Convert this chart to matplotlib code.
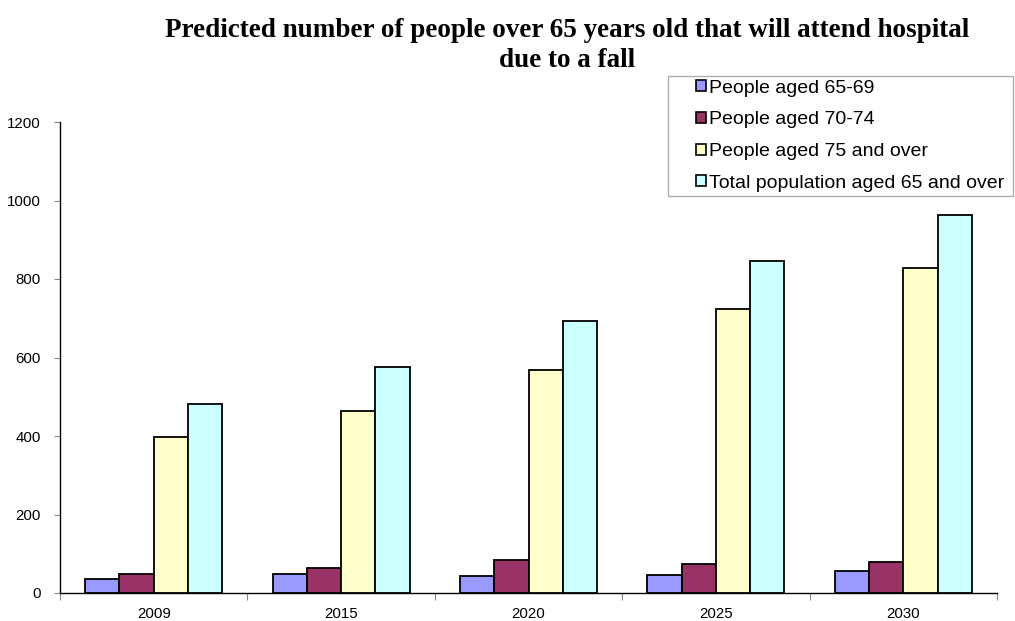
import matplotlib
matplotlib.use("Agg")
import matplotlib.pyplot as plt
from matplotlib.patches import Rectangle
import numpy as np

years = ["2009", "2015", "2020", "2025", "2030"]
series_names = [
    "People aged 65-69",
    "People aged 70-74",
    "People aged 75 and over",
    "Total population aged 65 and over",
]
aged_65_69 = [35, 49, 43, 47, 57]
aged_70_74 = [49, 63, 83, 75, 79]
aged_75_over = [397, 464, 567, 724, 828]
total_65_over = [481, 576, 693, 846, 964]
colors = ["#9999FF", "#993366", "#FFFFCC", "#CCFFFF"]
y_ticks = [0, 200, 400, 600, 800, 1000, 1200]

plt.rcParams["font.family"] = ["Liberation Sans", "DejaVu Sans"]

W, H = 1015, 621
fig = plt.figure(figsize=(W / 100, H / 100), dpi=100)
ax = fig.add_axes([60 / W, 1 - 593 / H, (997 - 60) / W, (593 - 122) / H])

x = np.arange(len(years))
width = 0.183
values = [aged_65_69, aged_70_74, aged_75_over, total_65_over]
for i, (vals, name, col) in enumerate(zip(values, series_names, colors)):
    offs = (i - 1.5) * width
    ax.bar(x + offs, vals, width, color=col, edgecolor="black",
           linewidth=1.3, label=name, zorder=3)

ax.set_xlim(-0.5, len(years) - 0.5)
ax.set_ylim(0, 1200)
ax.set_yticks(y_ticks)
ax.set_yticklabels([str(v) for v in y_ticks], fontsize=10.8)
ax.set_xticks(x)
ax.set_xticklabels(years, fontsize=10.8)
ax.set_xticks(np.arange(len(years) + 1) - 0.5, minor=True)
ax.tick_params(axis="x", which="major", length=0, pad=10)
ax.tick_params(axis="x", which="minor", length=5, width=0.8, color="#888888")
ax.tick_params(axis="y", length=4, width=0.8, color="#888888", pad=10)

for side in ["top", "right"]:
    ax.spines[side].set_visible(False)
ax.spines["left"].set_linewidth(1.0)
ax.spines["bottom"].set_linewidth(1.0)

# Two-line bold serif title
title_kw = dict(ha="center", va="baseline", fontsize=19.5, fontweight="bold",
                family="Liberation Serif")
fig.text(567 / W, 1 - 37 / H,
         "Predicted number of people over 65 years old that will attend hospital",
         **title_kw)
fig.text(567 / W, 1 - 67 / H, "due to a fall", **title_kw)

# Legend box
fig.patches.append(Rectangle((668 / W, 1 - 196 / H), (1013 - 668) / W, (196 - 76) / H,
                             transform=fig.transFigure, facecolor="white",
                             edgecolor="#b0b0b0", linewidth=1.0, zorder=5))
leg = fig.legend(loc="upper left", bbox_to_anchor=(690 / W, 1 - 74 / H),
                 fontsize=14, frameon=False, handlelength=0.5, handleheight=0.5,
                 handletextpad=0.2, labelspacing=0.75, borderpad=0.3,
                 borderaxespad=0)
leg.set_zorder(6)
for h in leg.legend_handles:
    h.set_linewidth(1.2)

fig.savefig("out.png", dpi=100)
